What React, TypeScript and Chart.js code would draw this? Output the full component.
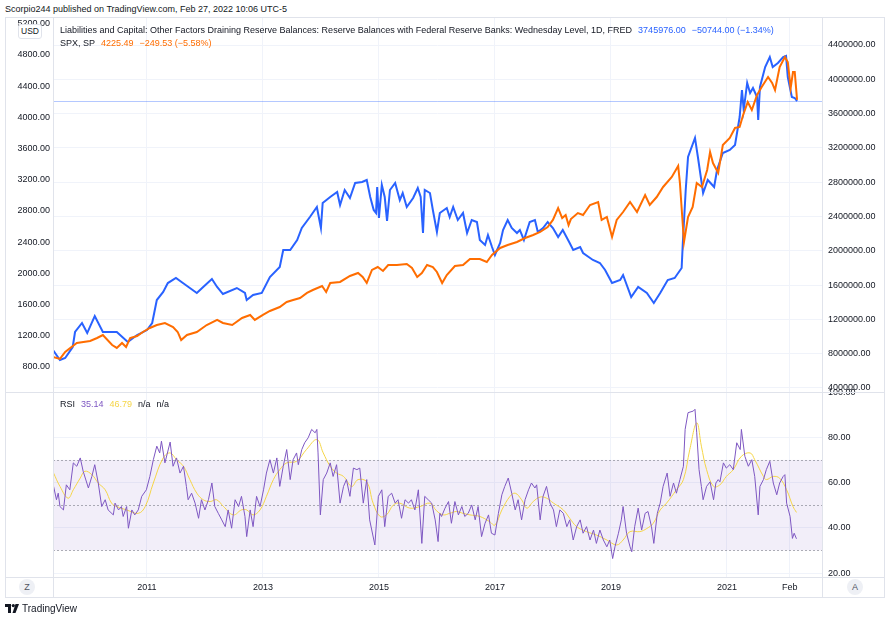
import React, { useEffect, useRef } from "react";
import { Chart, registerables } from "chart.js";

Chart.register(...registerables);

// ---------------- data ----------------
const RESERVE_DATES = [
  2009.38, 2009.5, 2009.59, 2009.72, 2009.76, 2009.88, 2009.97, 2010.1, 2010.24, 2010.48, 2010.67, 2010.83,
  2011.0, 2011.09, 2011.17, 2011.28, 2011.36, 2011.5, 2011.62, 2011.86, 2011.97, 2012.12, 2012.21, 2012.31,
  2012.55, 2012.69, 2012.72, 2012.83, 2012.98, 2013.12, 2013.29, 2013.35, 2013.47, 2013.59, 2013.67, 2013.81,
  2013.93, 2014.0, 2014.03, 2014.16, 2014.28, 2014.33, 2014.41, 2014.5, 2014.59, 2014.71, 2014.79, 2014.85,
  2014.91, 2014.95, 2014.97, 2015.0, 2015.05, 2015.1, 2015.14, 2015.19, 2015.28, 2015.36, 2015.41, 2015.48,
  2015.59, 2015.67, 2015.72, 2015.76, 2015.79, 2015.88, 2015.93, 2016.0, 2016.05, 2016.17, 2016.22, 2016.28,
  2016.36, 2016.45, 2016.52, 2016.6, 2016.69, 2016.74, 2016.83, 2016.88, 2016.95, 2017.0, 2017.09, 2017.14,
  2017.22, 2017.29, 2017.38, 2017.43, 2017.5, 2017.6, 2017.69, 2017.74, 2017.83, 2017.91, 2018.0, 2018.09,
  2018.17, 2018.28, 2018.35, 2018.47, 2018.52, 2018.69, 2018.81, 2018.9, 2019.02, 2019.16, 2019.21, 2019.35,
  2019.47, 2019.62, 2019.74, 2019.85, 2019.98, 2020.1, 2020.22, 2020.24, 2020.29, 2020.33, 2020.45, 2020.5,
  2020.59, 2020.67, 2020.78, 2020.83, 2020.93, 2021.05, 2021.14, 2021.22, 2021.26, 2021.29, 2021.35, 2021.4,
  2021.45, 2021.52, 2021.54, 2021.57, 2021.66, 2021.74, 2021.79, 2021.88, 2021.97, 2022.02, 2022.05, 2022.12,
  2022.17, 2022.21,
];
const RESERVE_VALUES = [
  843000, 727000, 750000, 878000, 1053000, 1158000, 1041000, 1240000, 1053000, 1053000, 936000, 1018000,
  1076000, 1158000, 1426000, 1520000, 1624000, 1683000, 1624000, 1508000, 1578000, 1671000, 1578000, 1496000,
  1566000, 1508000, 1426000, 1485000, 1508000, 1694000, 1811000, 2009000, 2009000, 2126000, 2266000, 2394000,
  2511000, 2266000, 2557000, 2627000, 2686000, 2534000, 2709000, 2616000, 2791000, 2802000, 2826000, 2627000,
  2476000, 2441000, 2744000, 2383000, 2767000, 2627000, 2348000, 2709000, 2791000, 2592000, 2674000, 2511000,
  2616000, 2732000, 2627000, 2208000, 2709000, 2674000, 2476000, 2219000, 2441000, 2499000, 2394000, 2511000,
  2359000, 2441000, 2208000, 2359000, 2336000, 2126000, 2068000, 2184000, 2044000, 1951000, 2091000, 2243000,
  2359000, 2266000, 2208000, 2243000, 2126000, 2336000, 2359000, 2219000, 2266000, 2336000, 2266000, 2161000,
  2243000, 2103000, 2009000, 2044000, 1974000, 1893000, 1858000, 1776000, 1624000, 1659000, 1718000, 1461000,
  1578000, 1508000, 1391000, 1508000, 1659000, 1683000, 1799000, 2091000, 2709000, 3094000, 3316000, 3094000,
  2674000, 2826000, 2744000, 2942000, 3141000, 3176000, 3234000, 3560000, 3875000, 3642000, 3957000, 3840000,
  3899000, 3794000, 3525000, 3910000, 4143000, 4260000, 4143000, 4190000, 4260000, 4272000, 4027000, 3794000,
  3782000, 3745976,
];

const SPX_DATES = [
  2009.38, 2009.5, 2009.59, 2009.79, 2010.02, 2010.14, 2010.24, 2010.4, 2010.48, 2010.57, 2010.64, 2010.71,
  2010.83, 2010.93, 2011.05, 2011.17, 2011.31, 2011.45, 2011.53, 2011.59, 2011.69, 2011.86, 2012.03, 2012.21,
  2012.31, 2012.47, 2012.64, 2012.78, 2012.86, 2013.0, 2013.12, 2013.29, 2013.41, 2013.52, 2013.64, 2013.76,
  2013.86, 2014.02, 2014.09, 2014.16, 2014.33, 2014.5, 2014.64, 2014.72, 2014.79, 2014.88, 2014.98, 2015.07,
  2015.16, 2015.31, 2015.48, 2015.57, 2015.66, 2015.74, 2015.83, 2015.93, 2016.0, 2016.09, 2016.17, 2016.31,
  2016.45, 2016.57, 2016.74, 2016.86, 2016.95, 2017.09, 2017.22, 2017.38, 2017.52, 2017.66, 2017.78, 2017.91,
  2018.0, 2018.09, 2018.16, 2018.22, 2018.27, 2018.31, 2018.43, 2018.52, 2018.64, 2018.78, 2018.84, 2018.93,
  2019.02, 2019.1, 2019.21, 2019.33, 2019.45, 2019.59, 2019.67, 2019.79, 2019.9, 2020.05, 2020.16, 2020.19,
  2020.26, 2020.33, 2020.41, 2020.48, 2020.57, 2020.66, 2020.71, 2020.76, 2020.85, 2020.93, 2021.05, 2021.14,
  2021.22, 2021.28, 2021.36, 2021.43, 2021.52, 2021.6, 2021.71, 2021.78, 2021.83, 2021.91, 2022.0, 2022.05,
  2022.1, 2022.14, 2022.17, 2022.21,
];
const SPX_VALUES = [
  928, 903, 992, 1108, 1133, 1172, 1210, 1082, 1044, 1108, 1056, 1172,
  1197, 1249, 1300, 1338, 1364, 1313, 1249, 1146, 1210, 1249, 1338, 1403,
  1364, 1338, 1428, 1467, 1403, 1467, 1518, 1569, 1633, 1659, 1685, 1749,
  1787, 1838, 1762, 1877, 1890, 1967, 2005, 1954, 1877, 2044, 2082, 2031,
  2108, 2108, 2120, 2069, 1954, 2005, 2108, 2082, 2018, 1877, 1979, 2095,
  2108, 2185, 2185, 2146, 2236, 2326, 2364, 2403, 2454, 2492, 2531, 2595,
  2685, 2838, 2710, 2749, 2620, 2697, 2774, 2749, 2877, 2915, 2685, 2723,
  2467, 2685, 2787, 2915, 2787, 3005, 2877, 2979, 3108, 3236, 3377, 3159,
  2403, 2723, 2851, 3159, 3108, 3326, 3556, 3415, 3287, 3646, 3736, 3864,
  3877, 4031, 4197, 4095, 4287, 4390, 4518, 4441, 4351, 4646, 4774, 4710,
  4377, 4582, 4582, 4225.49,
];

const RSI_DATES = [
  2009.39, 2009.44, 2009.47, 2009.5, 2009.56, 2009.61, 2009.67, 2009.73, 2009.79, 2009.85, 2009.9, 2009.99,
  2010.05, 2010.1, 2010.16, 2010.22, 2010.28, 2010.33, 2010.42, 2010.45, 2010.51, 2010.56, 2010.59, 2010.65,
  2010.68, 2010.74, 2010.79, 2010.85, 2010.91, 2010.99, 2011.05, 2011.11, 2011.17, 2011.22, 2011.25, 2011.31,
  2011.4, 2011.45, 2011.51, 2011.57, 2011.63, 2011.68, 2011.71, 2011.77, 2011.83, 2011.89, 2011.94, 2012.0,
  2012.06, 2012.12, 2012.17, 2012.23, 2012.29, 2012.35, 2012.4, 2012.46, 2012.52, 2012.58, 2012.63, 2012.69,
  2012.72, 2012.78, 2012.83, 2012.89, 2012.95, 2013.01, 2013.06, 2013.12, 2013.18, 2013.24, 2013.29, 2013.35,
  2013.41, 2013.47, 2013.52, 2013.58, 2013.61, 2013.67, 2013.72, 2013.78, 2013.84, 2013.9, 2013.93, 2013.95,
  2013.99, 2014.04, 2014.1, 2014.16, 2014.21, 2014.27, 2014.33, 2014.39, 2014.44, 2014.5, 2014.56, 2014.62,
  2014.67, 2014.73, 2014.79, 2014.84, 2014.93, 2014.99, 2015.05, 2015.1, 2015.16, 2015.22, 2015.28, 2015.33,
  2015.39, 2015.45, 2015.51, 2015.56, 2015.62, 2015.68, 2015.74, 2015.79, 2015.85, 2015.91, 2015.97, 2016.02,
  2016.05, 2016.08, 2016.14, 2016.2, 2016.25, 2016.31, 2016.37, 2016.43, 2016.48, 2016.54, 2016.6, 2016.66,
  2016.71, 2016.77, 2016.83, 2016.89, 2016.94, 2017.0, 2017.06, 2017.12, 2017.17, 2017.23, 2017.29, 2017.35,
  2017.4, 2017.46, 2017.52, 2017.58, 2017.63, 2017.69, 2017.72, 2017.78, 2017.83, 2017.89, 2017.95, 2018.01,
  2018.06, 2018.12, 2018.18, 2018.24, 2018.29, 2018.35, 2018.41, 2018.47, 2018.52, 2018.58, 2018.64, 2018.7,
  2018.75, 2018.81, 2018.87, 2018.93, 2018.98, 2019.03, 2019.07, 2019.13, 2019.18, 2019.21, 2019.27, 2019.33,
  2019.36, 2019.41, 2019.47, 2019.53, 2019.59, 2019.64, 2019.7, 2019.74, 2019.8, 2019.85, 2019.9, 2019.97,
  2020.02, 2020.08, 2020.13, 2020.19, 2020.25, 2020.28, 2020.33, 2020.42, 2020.45, 2020.48, 2020.52, 2020.56,
  2020.59, 2020.65, 2020.71, 2020.77, 2020.81, 2020.85, 2020.88, 2020.94, 2020.99, 2021.05, 2021.11, 2021.17,
  2021.23, 2021.25, 2021.31, 2021.37, 2021.43, 2021.48, 2021.54, 2021.57, 2021.63, 2021.68, 2021.74, 2021.8,
  2021.86, 2021.91, 2021.97, 2022.0, 2022.03, 2022.09, 2022.13, 2022.16, 2022.2,
];
const RSI_VALUES = [
  58.3, 52.4, 55.3, 49.4, 47.9, 59.0, 56.8, 68.7, 67.2, 70.9, 65.0, 57.6,
  62.7, 67.9, 59.8, 49.4, 52.4, 47.9, 45.7, 50.9, 47.9, 49.4, 45.0, 49.4,
  39.8, 47.9, 45.7, 47.9, 53.9, 56.8, 62.7, 70.1, 76.1, 73.1, 78.3, 68.7,
  77.9, 67.2, 70.9, 64.2, 67.2, 58.3, 52.4, 55.3, 50.9, 44.2, 52.4, 47.9,
  52.4, 59.8, 49.4, 46.4, 43.5, 40.5, 47.9, 39.8, 52.4, 49.4, 53.9, 45.0,
  36.1, 47.9, 40.5, 53.9, 49.4, 56.8, 64.2, 70.1, 64.2, 70.9, 58.3, 67.2,
  74.6, 61.3, 70.1, 73.1, 67.9, 74.6, 77.6, 79.8, 83.5, 82.0, 83.5, 73.1,
  45.7, 61.3, 64.2, 68.7, 62.7, 67.9, 50.9, 58.3, 61.3, 53.9, 66.4, 65.7,
  66.4, 50.9, 61.3, 43.5, 32.4, 53.9, 56.8, 40.5, 53.9, 55.3, 50.9, 52.4,
  44.2, 52.4, 50.9, 52.4, 47.9, 56.8, 33.1, 53.9, 52.4, 50.9, 43.5, 33.9,
  46.4, 45.0, 48.7, 51.6, 42.0, 51.6, 45.7, 49.4, 45.0, 46.4, 50.1, 43.5,
  49.4, 36.1, 42.0, 45.7, 37.6, 36.8, 46.4, 54.6, 58.3, 62.0, 55.3, 47.9,
  52.4, 43.5, 52.4, 56.8, 59.8, 57.6, 59.0, 43.5, 53.9, 58.3, 50.9, 47.9,
  40.5, 47.9, 46.4, 40.5, 43.5, 34.6, 40.5, 43.5, 37.6, 40.5, 34.6, 39.0,
  33.1, 39.0, 34.6, 31.6, 34.6, 26.4, 31.6, 37.6, 43.5, 49.4, 37.6, 31.6,
  29.4, 40.5, 48.7, 39.0, 46.4, 47.2, 40.5, 33.1, 46.4, 50.9, 58.3, 64.2,
  53.9, 59.8, 55.3, 61.3, 67.2, 83.5, 90.9, 91.6, 92.4, 82.0, 65.7, 58.3,
  52.4, 58.3, 60.3, 52.4, 59.8, 61.3, 60.3, 68.7, 66.4, 67.9, 65.7, 77.6,
  74.6, 83.5, 71.6, 67.2, 70.1, 62.7, 45.7, 58.3, 61.3, 65.7, 69.4, 59.8,
  54.6, 59.8, 62.7, 63.5, 50.9, 45.0, 35.3, 37.6, 35.14,
];

const RSI_MA_DATES = [
  2009.39, 2009.5, 2009.64, 2009.73, 2009.85, 2009.93, 2010.05, 2010.16, 2010.28, 2010.39, 2010.48, 2010.65,
  2010.85, 2010.97, 2011.11, 2011.28, 2011.4, 2011.51, 2011.63, 2011.74, 2011.86, 2011.97, 2012.09, 2012.2,
  2012.32, 2012.49, 2012.63, 2012.72, 2012.83, 2012.95, 2013.06, 2013.18, 2013.29, 2013.41, 2013.58, 2013.75,
  2013.93, 2014.04, 2014.16, 2014.27, 2014.39, 2014.53, 2014.64, 2014.79, 2014.9, 2015.02, 2015.13, 2015.25,
  2015.36, 2015.53, 2015.71, 2015.88, 2015.99, 2016.11, 2016.22, 2016.34, 2016.45, 2016.57, 2016.74, 2016.91,
  2017.0, 2017.12, 2017.26, 2017.35, 2017.46, 2017.55, 2017.66, 2017.78, 2017.89, 2018.01, 2018.18, 2018.29,
  2018.41, 2018.58, 2018.75, 2018.93, 2019.1, 2019.21, 2019.33, 2019.5, 2019.62, 2019.73, 2019.85, 2019.96,
  2020.13, 2020.25, 2020.36, 2020.48, 2020.56, 2020.65, 2020.77, 2020.88, 2020.99, 2021.11, 2021.25, 2021.4,
  2021.48, 2021.63, 2021.68, 2021.8, 2021.91, 2022.03, 2022.14, 2022.2,
];
const RSI_MA_VALUES = [
  64.2, 58.3, 53.1, 56.8, 62.0, 65.0, 63.5, 59.8, 56.8, 50.9, 49.4, 47.9,
  46.4, 49.4, 59.8, 70.9, 73.1, 70.1, 67.2, 61.3, 55.3, 52.4, 51.6, 52.4,
  49.4, 45.7, 47.9, 47.9, 45.7, 47.9, 53.9, 61.3, 65.7, 68.7, 69.4, 74.6,
  79.0, 73.1, 67.2, 64.2, 62.7, 58.3, 61.3, 60.3, 50.9, 45.0, 45.7, 50.1,
  50.9, 48.7, 49.4, 50.9, 47.6, 45.7, 46.4, 47.2, 46.4, 45.7, 45.0, 42.7,
  41.2, 47.9, 53.9, 55.3, 52.4, 48.7, 51.6, 53.6, 53.1, 50.9, 47.9, 44.2,
  40.5, 38.3, 36.8, 34.6, 32.4, 34.6, 38.3, 38.3, 39.7, 42.0, 47.9, 50.9,
  56.8, 61.3, 74.6, 86.4, 76.1, 65.7, 58.3, 59.0, 62.7, 65.7, 71.6, 73.1,
  70.1, 62.7, 61.3, 62.7, 61.9, 56.8, 49.4, 46.79,
];

// axes / ticks
const TIME_TICKS = [2011, 2013, 2015, 2017, 2019, 2021, 2022.085];
const TIME_TICK_LABELS = ["2011", "2013", "2015", "2017", "2019", "2021", "Feb"];
const X_MIN = 2009.38;
const X_MAX = 2022.64;
const SPX_TICKS = [800, 1200, 1600, 2000, 2400, 2800, 3200, 3600, 4000, 4400, 4800, 5200];
const SPX_MIN = 479.5;
const SPX_MAX = 5287;
const RES_TICKS = [400000, 800000, 1200000, 1600000, 2000000, 2400000, 2800000, 3200000, 3600000, 4000000, 4400000];
const RES_MIN = 353350;
const RES_MAX = 4726600;
const RSI_TICKS = [20, 40, 60, 80, 100];
const RSI_MIN = 17.8;
const RSI_MAX = 99.6;
const RSI_BAND = [30, 70];
const RSI_LEVELS = [70, 50, 30];

// ---------------- styles ----------------
const FONT = '"Liberation Sans", Arial, sans-serif';
const TEXT = "#131722";
const BLUE = "#2962ff";
const ORANGE = "#ff6d00";
const PURPLE = "#7e57c2";
const YELLOW = "#f5d547";
const GRID = "#f0f3fa";
const BORDER = "#e0e3eb";

const pts = (xs: number[], ys: number[]) => xs.map((x, i) => ({ x, y: ys[i] }));
const fixed2 = (v: any) => Number(v).toFixed(2);
const timeLabel = (v: any) => {
  const i = TIME_TICKS.findIndex((t) => Math.abs(t - Number(v)) < 1e-6);
  return i >= 0 ? TIME_TICK_LABELS[i] : "";
};

const priceLinePlugin = {
  id: "priceLine",
  beforeDatasetsDraw(chart: any) {
    const { ctx, chartArea, scales } = chart;
    const y = scales.yRes.getPixelForValue(RESERVE_VALUES[RESERVE_VALUES.length - 1]);
    ctx.save();
    ctx.strokeStyle = "rgba(41,98,255,0.35)";
    ctx.lineWidth = 1;
    ctx.beginPath();
    ctx.moveTo(chartArea.left, Math.round(y) + 0.5);
    ctx.lineTo(chartArea.right, Math.round(y) + 0.5);
    ctx.stroke();
    ctx.restore();
  },
};

const rsiBandPlugin = {
  id: "rsiBand",
  beforeDatasetsDraw(chart: any) {
    const { ctx, chartArea, scales } = chart;
    const yS = scales.y;
    const top = yS.getPixelForValue(RSI_BAND[1]);
    const bot = yS.getPixelForValue(RSI_BAND[0]);
    ctx.save();
    ctx.fillStyle = "rgba(126,87,194,0.1)";
    ctx.fillRect(chartArea.left, top, chartArea.right - chartArea.left, bot - top);
    ctx.strokeStyle = "rgba(120,123,134,0.6)";
    ctx.lineWidth = 1;
    ctx.setLineDash([2, 2]);
    RSI_LEVELS.forEach((lv) => {
      const y = Math.round(yS.getPixelForValue(lv)) + 0.5;
      ctx.beginPath();
      ctx.moveTo(chartArea.left, y);
      ctx.lineTo(chartArea.right, y);
      ctx.stroke();
    });
    ctx.restore();
  },
};

const tickFont = { family: FONT, size: 9 };

export default function App() {
  const mainRef = useRef<HTMLCanvasElement>(null);
  const rsiRef = useRef<HTMLCanvasElement>(null);

  useEffect(() => {
    const main = new Chart(mainRef.current as HTMLCanvasElement, {
      type: "line",
      data: {
        datasets: [
          {
            label: "SPX, SP",
            data: pts(SPX_DATES, SPX_VALUES),
            yAxisID: "ySpx",
            borderColor: ORANGE,
            borderWidth: 2,
            pointRadius: 0,
            tension: 0,
          },
          {
            label: "Reserve Balances with Federal Reserve Banks",
            data: pts(RESERVE_DATES, RESERVE_VALUES),
            yAxisID: "yRes",
            borderColor: BLUE,
            borderWidth: 2,
            pointRadius: 0,
            tension: 0,
          },
        ],
      },
      options: {
        responsive: false,
        animation: false,
        events: [],
        layout: { padding: { top: 12, bottom: 12, left: 0, right: 0 } },
        plugins: { legend: { display: false }, tooltip: { enabled: false } },
        scales: {
          x: {
            type: "linear",
            min: X_MIN,
            max: X_MAX,
            afterBuildTicks: (s: any) => {
              s.ticks = TIME_TICKS.map((v) => ({ value: v }));
            },
            afterFit: (s: any) => {
              s.height = 0;
            },
            ticks: { display: false },
            grid: { color: GRID, drawTicks: false },
            border: { display: false },
          },
          ySpx: {
            type: "linear",
            position: "left",
            min: SPX_MIN,
            max: SPX_MAX,
            afterBuildTicks: (s: any) => {
              s.ticks = SPX_TICKS.map((v) => ({ value: v }));
            },
            afterFit: (s: any) => {
              s.width = 48;
            },
            ticks: { font: tickFont, color: TEXT, padding: 3, callback: fixed2 },
            grid: { display: false, drawTicks: false },
            border: { display: false },
          },
          yRes: {
            type: "linear",
            position: "right",
            min: RES_MIN,
            max: RES_MAX,
            afterBuildTicks: (s: any) => {
              s.ticks = RES_TICKS.map((v) => ({ value: v }));
            },
            afterFit: (s: any) => {
              s.width = 62;
            },
            ticks: { font: tickFont, color: TEXT, padding: 6, callback: fixed2 },
            grid: { color: GRID, drawTicks: false },
            border: { display: false },
          },
        },
      } as any,
      plugins: [priceLinePlugin],
    });

    const rsi = new Chart(rsiRef.current as HTMLCanvasElement, {
      type: "line",
      data: {
        datasets: [
          {
            label: "RSI",
            data: pts(RSI_DATES, RSI_VALUES),
            borderColor: PURPLE,
            borderWidth: 1,
            pointRadius: 0,
            tension: 0,
          },
          {
            label: "RSI-based MA",
            data: pts(RSI_MA_DATES, RSI_MA_VALUES),
            borderColor: YELLOW,
            borderWidth: 1,
            pointRadius: 0,
            tension: 0.4,
          },
        ],
      },
      options: {
        responsive: false,
        animation: false,
        events: [],
        layout: { padding: { top: 12, bottom: 4, left: 48, right: 0 } },
        plugins: { legend: { display: false }, tooltip: { enabled: false } },
        scales: {
          x: {
            type: "linear",
            min: X_MIN,
            max: X_MAX,
            afterBuildTicks: (s: any) => {
              s.ticks = TIME_TICKS.map((v) => ({ value: v }));
            },
            afterFit: (s: any) => {
              s.height = 20;
            },
            ticks: {
              font: tickFont,
              color: TEXT,
              padding: 4,
              maxRotation: 0,
              autoSkip: false,
              callback: timeLabel,
            },
            grid: { color: GRID, drawTicks: false },
            border: { display: false },
          },
          y: {
            type: "linear",
            position: "right",
            min: RSI_MIN,
            max: RSI_MAX,
            afterBuildTicks: (s: any) => {
              s.ticks = RSI_TICKS.map((v) => ({ value: v }));
            },
            afterFit: (s: any) => {
              s.width = 62;
            },
            ticks: { font: tickFont, color: TEXT, padding: 6, callback: fixed2 },
            grid: { color: GRID, drawTicks: false },
            border: { display: false },
          },
        },
      } as any,
      plugins: [rsiBandPlugin],
    });

    return () => {
      main.destroy();
      rsi.destroy();
    };
  }, []);

  const line = (l: number, t: number, w: number, h: number, key: string) => (
    <div key={key} style={{ position: "absolute", left: l, top: t, width: w, height: h, background: BORDER }} />
  );

  const txt: React.CSSProperties = {
    position: "absolute",
    fontFamily: FONT,
    fontSize: 9,
    lineHeight: "11px",
    color: TEXT,
    whiteSpace: "nowrap",
  };

  const circle = (cx: number, label: string) => (
    <div
      style={{
        position: "absolute",
        left: cx - 8,
        top: 579,
        width: 16,
        height: 16,
        borderRadius: 8,
        background: "#eef0f5",
        color: "#50535e",
        fontFamily: FONT,
        fontSize: 9,
        lineHeight: "16px",
        textAlign: "center",
      }}
    >
      {label}
    </div>
  );

  return (
    <div
      style={{
        position: "absolute",
        left: 0,
        top: 0,
        width: 886,
        height: 617,
        background: "#ffffff",
        overflow: "hidden",
      }}
    >
      <div style={{ ...txt, left: 5, top: 4 }}>
        Scorpio244 published on TradingView.com, Feb 27, 2022 10:06 UTC-5
      </div>

      <canvas
        ref={mainRef}
        width={879}
        height={399}
        style={{ position: "absolute", left: 5, top: 5, width: 879, height: 399 }}
      />
      <canvas
        ref={rsiRef}
        width={879}
        height={221}
        style={{ position: "absolute", left: 5, top: 381, width: 879, height: 221 }}
      />

      {/* frame lines */}
      {line(5, 17, 880, 1, "top")}
      {line(5, 597, 880, 1, "bottom")}
      {line(5, 17, 1, 581, "left")}
      {line(884, 17, 1, 581, "right")}
      {line(53, 17, 1, 581, "laxis")}
      {line(822, 17, 1, 581, "raxis")}
      {line(5, 392, 880, 1, "pane")}
      {line(5, 577, 880, 1, "time")}

      {/* cover below the RSI pane on the right axis */}
      <div style={{ position: "absolute", left: 823, top: 578, width: 61, height: 19, background: "#fff" }} />

      {/* USD badge */}
      <div
        style={{
          position: "absolute",
          left: 18,
          top: 24,
          width: 22,
          height: 13,
          background: "#fff",
          border: `1px solid ${BORDER}`,
          borderRadius: 3,
          fontFamily: FONT,
          fontSize: 8.5,
          lineHeight: "13px",
          textAlign: "center",
          color: TEXT,
        }}
      >
        USD
      </div>

      {/* legends */}
      <div style={{ ...txt, left: 60, top: 25 }}>
        Liabilities and Capital: Other Factors Draining Reserve Balances: Reserve Balances with Federal Reserve
        Banks: Wednesday Level, 1D, FRED
        <span style={{ color: BLUE, marginLeft: 6 }}>3745976.00</span>
        <span style={{ color: BLUE, marginLeft: 6 }}>−50744.00 (−1.34%)</span>
      </div>
      <div style={{ ...txt, left: 60, top: 38 }}>
        SPX, SP
        <span style={{ color: ORANGE, marginLeft: 6 }}>4225.49</span>
        <span style={{ color: ORANGE, marginLeft: 6 }}>−249.53 (−5.58%)</span>
      </div>
      <div style={{ ...txt, left: 60, top: 399 }}>
        RSI
        <span style={{ color: PURPLE, marginLeft: 6 }}>35.14</span>
        <span style={{ color: YELLOW, marginLeft: 6 }}>46.79</span>
        <span style={{ marginLeft: 6 }}>n/a</span>
        <span style={{ marginLeft: 6 }}>n/a</span>
      </div>

      {circle(27, "Z")}
      {circle(855, "A")}

      {/* footer */}
      <svg style={{ position: "absolute", left: 5, top: 604 }} width={15} height={9} viewBox="0 0 15 9">
        <rect x="0" y="0" width="6" height="3" fill={TEXT} />
        <rect x="3" y="0" width="3" height="9" fill={TEXT} />
        <circle cx="8.3" cy="1.6" r="1.6" fill={TEXT} />
        <polygon points="10.5,0 14,0 10.5,9 7.5,9" fill={TEXT} />
      </svg>
      <div style={{ ...txt, left: 22, top: 603, fontSize: 10, lineHeight: "12px" }}>TradingView</div>
    </div>
  );
}
